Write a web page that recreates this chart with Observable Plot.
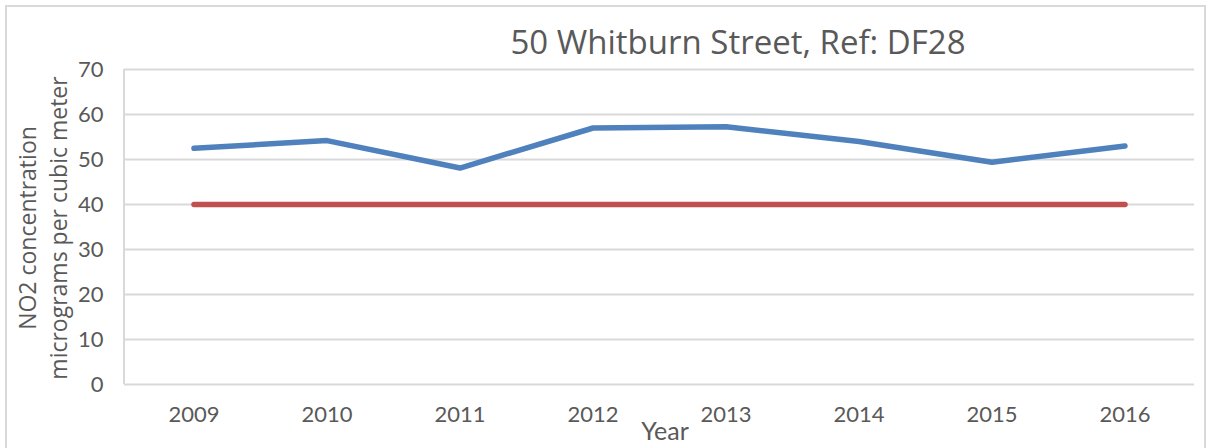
<!DOCTYPE html>
<html>
<head>
<meta charset="utf-8">
<script src="https://cdn.jsdelivr.net/npm/d3@7"></script>
<script src="https://cdn.jsdelivr.net/npm/@observablehq/plot@0.6"></script>
<style>
  html, body { margin: 0; padding: 0; background: #fff; }
  #wrap { position: relative; width: 1213px; height: 448px; overflow: hidden; background: #fff; }
  #wrap svg { position: absolute; left: 0; top: 0; }
  #border { position: absolute; left: 5px; top: 5px; width: 1201px; height: 460px; border: 2px solid #d9d9d9; box-sizing: border-box; }
  #title { position: absolute; left: 738px; top: 25px; transform: translateX(-50%); white-space: nowrap;
           font-family: "Open Sans", sans-serif; font-size: 33px; color: #595959; line-height: 1; }
  #ylabel { position: absolute; left: 43px; top: 228px; transform: translate(-50%, -50%) rotate(-90deg);
            white-space: nowrap; text-align: center; font-family: "Open Sans", sans-serif; font-size: 23px;
            line-height: 31px; color: #595959; }
  #xlabel { position: absolute; left: 665px; top: 418px; transform: translateX(-50%);
            font-family: Lato, sans-serif; font-size: 25px; color: #595959; line-height: 1; }
</style>
</head>
<body>
<div id="wrap">
  <div id="border"></div>
  <div id="title"></div>
  <div id="ylabel"></div>
  <div id="xlabel"></div>
</div>
<script>
const titleText = "50 Whitburn Street, Ref: DF28";
const yLabelLines = ["NO2 concentration", "micrograms per cubic meter"];
const xLabelText = "Year";
const years = ["2009", "2010", "2011", "2012", "2013", "2014", "2015", "2016"];
const no2Values = [52.5, 54.2, 48.1, 57.0, 57.3, 54.0, 49.4, 53.0];
const limitValues = [40, 40, 40, 40, 40, 40, 40, 40];
const yTicks = [0, 10, 20, 30, 40, 50, 60, 70];

const measured = years.map((y, i) => ({year: y, value: no2Values[i]}));
const limit = years.map((y, i) => ({year: y, value: limitValues[i]}));

document.getElementById("title").textContent = titleText;
document.getElementById("ylabel").innerHTML = yLabelLines.map(s => `<div>${s}</div>`).join("");
document.getElementById("xlabel").textContent = xLabelText;

const chart = Plot.plot({
  width: 1213,
  height: 448,
  marginLeft: 124,
  marginRight: 19,
  marginTop: 69,
  marginBottom: 64,
  style: {fontFamily: "Lato, sans-serif", fontSize: "22px", color: "#595959", background: "transparent"},
  x: {type: "band", domain: years, padding: 0, label: null},
  y: {domain: [0, 70], label: null},
  marks: [
    Plot.ruleY(yTicks, {stroke: "#d9d9d9", strokeWidth: 2}),
    Plot.axisY({ticks: yTicks, tickSize: 0, tickPadding: 21, fontSize: 22, fill: "#595959", label: null}),
    Plot.axisX({tickSize: 0, tickPadding: 22, fontSize: 22, fill: "#595959", label: null}),
    Plot.line(limit, {x: "year", y: "value", stroke: "#c0504d", strokeWidth: 5.5, strokeLinecap: "round", strokeLinejoin: "round"}),
    Plot.line(measured, {x: "year", y: "value", stroke: "#4f81bd", strokeWidth: 5.5, strokeLinecap: "round", strokeLinejoin: "round"})
  ]
});

// left axis line drawn at the x scale's range start
const xr = chart.scale("x").range;
const yr = chart.scale("y").range;
const ns = "http://www.w3.org/2000/svg";
const ln = document.createElementNS(ns, "line");
ln.setAttribute("x1", xr[0]); ln.setAttribute("x2", xr[0]);
ln.setAttribute("y1", yr[0]); ln.setAttribute("y2", yr[1]);
ln.setAttribute("stroke", "#d9d9d9"); ln.setAttribute("stroke-width", 2);
chart.insertBefore(ln, chart.firstChild.nextSibling);

document.getElementById("wrap").appendChild(chart);
</script>
</body>
</html>
